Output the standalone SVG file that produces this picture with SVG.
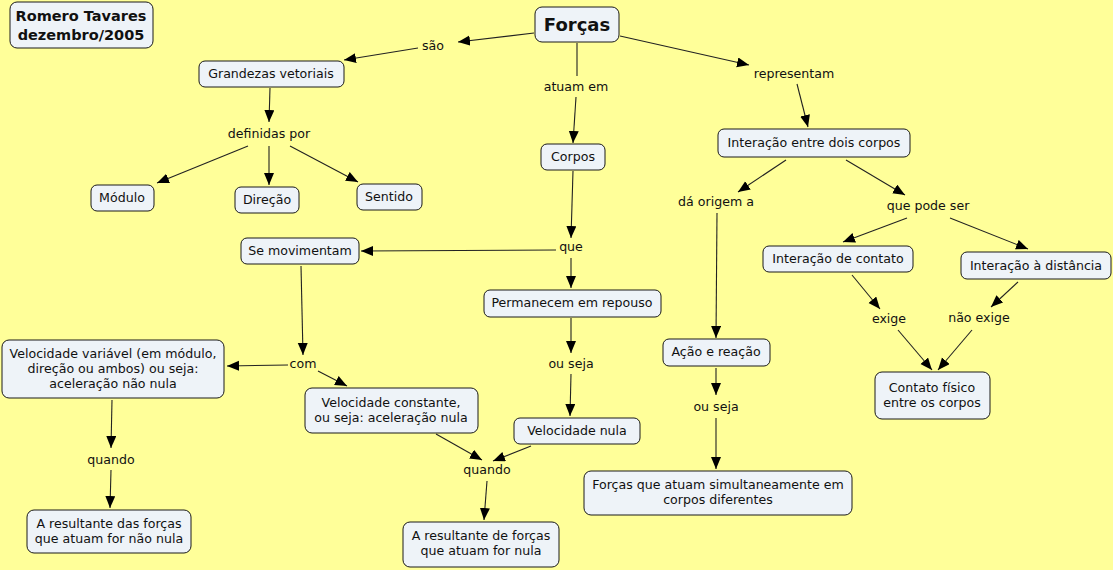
<svg xmlns="http://www.w3.org/2000/svg" width="1113" height="570" viewBox="0 0 1113 570">
<style>
.bg{fill:#ffff99}
.n rect{fill:#eef3f8;stroke:#1a1a1a;stroke-width:1}
text{font-family:"DejaVu Sans",Verdana,sans-serif;font-size:12.6px;fill:#111;text-anchor:middle}
.b{font-weight:bold}
.t1{font-size:14.5px}
.t2{font-size:18px}
.c line{stroke:#222;stroke-width:1.1}
.a{marker-end:url(#ah)}
</style>
<defs>
<marker id="ah" markerUnits="userSpaceOnUse" markerWidth="13" markerHeight="11" refX="12" refY="5" orient="auto">
<path d="M0,0 L12,5 L0,10 z" fill="#000"/>
</marker>
</defs>
<rect class="bg" x="0" y="0" width="1113" height="570"/>

<g id="connectors" class="c">
<line class="a" x1="534" y1="33" x2="458" y2="42"/>
<line class="a" x1="418" y1="48" x2="344" y2="60"/>
<line x1="577" y1="43" x2="577" y2="76"/>
<line class="a" x1="576" y1="97" x2="573" y2="143"/>
<line class="a" x1="620" y1="36" x2="749" y2="65"/>
<line class="a" x1="797" y1="84" x2="808" y2="127"/>
<line class="a" x1="270" y1="88" x2="269" y2="122"/>
<line class="a" x1="248" y1="146" x2="157" y2="183"/>
<line class="a" x1="269" y1="146" x2="269" y2="185"/>
<line class="a" x1="290" y1="146" x2="358" y2="182"/>
<line class="a" x1="573" y1="171" x2="571" y2="238"/>
<line class="a" x1="556" y1="250" x2="361" y2="251"/>
<line class="a" x1="571" y1="258" x2="571" y2="288"/>
<line class="a" x1="786" y1="160" x2="738" y2="192"/>
<line class="a" x1="846" y1="160" x2="905" y2="195"/>
<line class="a" x1="717" y1="213" x2="716" y2="338"/>
<line class="a" x1="907" y1="218" x2="843" y2="242"/>
<line class="a" x1="950" y1="218" x2="1028" y2="249"/>
<line class="a" x1="301" y1="266" x2="303" y2="355"/>
<line class="a" x1="288" y1="365" x2="227" y2="366"/>
<line class="a" x1="318" y1="371" x2="347" y2="386"/>
<line class="a" x1="571" y1="318" x2="571" y2="353"/>
<line class="a" x1="571" y1="374" x2="570" y2="416"/>
<line class="a" x1="112" y1="400" x2="111" y2="448"/>
<line class="a" x1="111" y1="470" x2="110" y2="508"/>
<line class="a" x1="436" y1="434" x2="482" y2="460"/>
<line class="a" x1="531" y1="446" x2="493" y2="461"/>
<line class="a" x1="487" y1="481" x2="484" y2="520"/>
<line class="a" x1="716" y1="368" x2="716" y2="395"/>
<line class="a" x1="716" y1="418" x2="716" y2="469"/>
<line class="a" x1="852" y1="275" x2="880" y2="309"/>
<line class="a" x1="898" y1="330" x2="932" y2="370"/>
<line class="a" x1="1018" y1="282" x2="991" y2="307"/>
<line class="a" x1="972" y1="330" x2="938" y2="370"/>
</g>

<g id="labels">
<text x="433" y="50">são</text>
<text x="576" y="91">atuam em</text>
<text x="794" y="78">representam</text>
<text x="269" y="138">definidas por</text>
<text x="571" y="251">que</text>
<text x="716" y="206">dá origem a</text>
<text x="928" y="210">que pode ser</text>
<text x="303" y="368">com</text>
<text x="571" y="368">ou seja</text>
<text x="889" y="323">exige</text>
<text x="979" y="322">não exige</text>
<text x="716" y="411">ou seja</text>
<text x="111" y="464">quando</text>
<text x="487" y="474">quando</text>
</g>

<g id="n-autor" class="n"><rect x="10" y="2" width="143" height="46" rx="7"/><text class="b t1" x="81" y="21">Romero Tavares</text><text class="b t1" x="81" y="40">dezembro/2005</text></g>
<g id="n-forcas" class="n"><rect x="535" y="7" width="84" height="35" rx="7"/><text class="b t2" x="577" y="31">Forças</text></g>
<g id="n-grandezas" class="n"><rect x="199" y="61" width="145" height="26" rx="6"/><text x="271" y="78">Grandezas vetoriais</text></g>
<g id="n-corpos" class="n"><rect x="541" y="144" width="64" height="26" rx="6"/><text x="573" y="161">Corpos</text></g>
<g id="n-interacao" class="n"><rect x="718" y="129" width="192" height="28" rx="6"/><text x="814" y="147">Interação entre dois corpos</text></g>
<g id="n-modulo" class="n"><rect x="91" y="185" width="63" height="26" rx="6"/><text x="122" y="202">Módulo</text></g>
<g id="n-direcao" class="n"><rect x="235" y="187" width="64" height="26" rx="6"/><text x="267" y="204">Direção</text></g>
<g id="n-sentido" class="n"><rect x="357" y="184" width="65" height="26" rx="6"/><text x="389" y="201">Sentido</text></g>
<g id="n-semov" class="n"><rect x="241" y="238" width="118" height="26" rx="6"/><text x="300" y="255">Se movimentam</text></g>
<g id="n-repouso" class="n"><rect x="484" y="290" width="177" height="27" rx="6"/><text x="572" y="307">Permanecem em repouso</text></g>
<g id="n-contato" class="n"><rect x="763" y="246" width="150" height="26" rx="6"/><text x="838" y="263">Interação de contato</text></g>
<g id="n-distancia" class="n"><rect x="961" y="252" width="150" height="27" rx="6"/><text x="1036" y="270">Interação à distância</text></g>
<g id="n-velvar" class="n"><rect x="2" y="340" width="222" height="58" rx="7"/><text x="113" y="358">Velocidade variável (em módulo,</text><text x="113" y="373">direção ou ambos) ou seja:</text><text x="113" y="388">aceleração não nula</text></g>
<g id="n-velconst" class="n"><rect x="305" y="388" width="173" height="45" rx="7"/><text x="391" y="407">Velocidade constante,</text><text x="391" y="422">ou seja: aceleração nula</text></g>
<g id="n-velnula" class="n"><rect x="514" y="418" width="126" height="26" rx="6"/><text x="577" y="435">Velocidade nula</text></g>
<g id="n-acao" class="n"><rect x="663" y="339" width="107" height="27" rx="6"/><text x="716" y="356">Ação e reação</text></g>
<g id="n-contatofisico" class="n"><rect x="875" y="372" width="115" height="47" rx="7"/><text x="932" y="392">Contato físico</text><text x="932" y="407">entre os corpos</text></g>
<g id="n-simult" class="n"><rect x="584" y="471" width="268" height="44" rx="7"/><text x="718" y="489">Forças que atuam simultaneamente em</text><text x="718" y="504">corpos diferentes</text></g>
<g id="n-resnaonula" class="n"><rect x="27" y="510" width="164" height="43" rx="7"/><text x="109" y="528">A resultante das forças</text><text x="109" y="543">que atuam for não nula</text></g>
<g id="n-resnula" class="n"><rect x="403" y="522" width="156" height="45" rx="7"/><text x="481" y="540">A resultante de forças</text><text x="481" y="555">que atuam for nula</text></g>
</svg>
